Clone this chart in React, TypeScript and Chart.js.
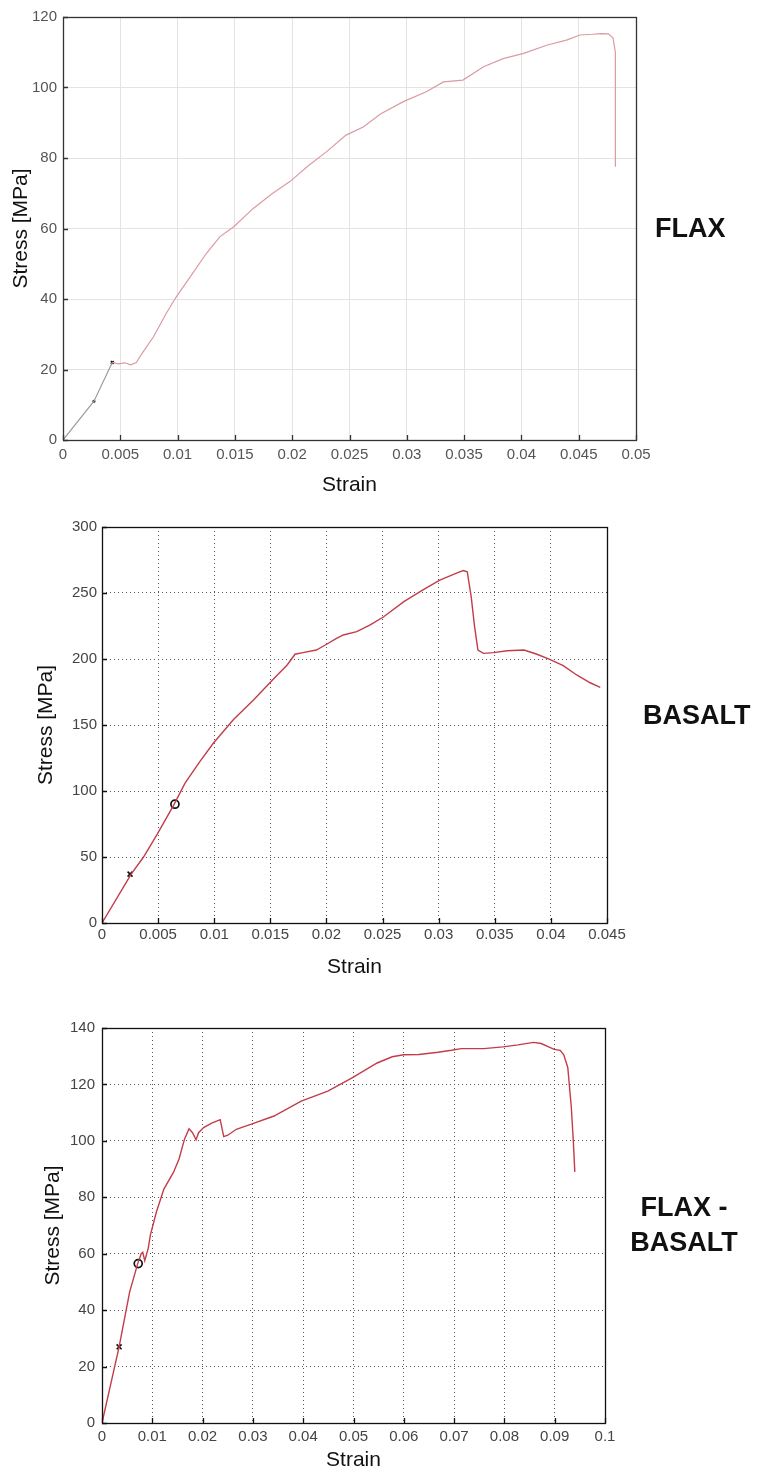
import React, { useEffect, useRef } from "react";
import { Chart, registerables } from "chart.js";

Chart.register(...registerables);

// ---------- FLAX ----------
const FLAX_STRAIN = [
  0, 0.0027, 0.0043, 0.0048, 0.0054, 0.0059, 0.0064, 0.0069, 0.0079, 0.009, 0.0099, 0.0111, 0.0125,
  0.0137, 0.0149, 0.0166, 0.0183, 0.0198, 0.0213, 0.023, 0.0247, 0.0262, 0.0277, 0.0297, 0.0317,
  0.0332, 0.0349, 0.0367, 0.0384, 0.0402, 0.0422, 0.044, 0.0451, 0.0462, 0.0469, 0.0476, 0.048,
  0.0482, 0.0482, 0.0482,
];
const FLAX_STRESS = [
  0, 11, 22, 21.6, 21.9, 21.3, 22, 24.6, 29.3, 35.9, 40.7, 46.3, 52.9, 57.7, 60.5, 65.7, 70, 73.3,
  77.5, 81.8, 86.5, 88.8, 92.5, 96, 98.8, 101.6, 102.1, 105.9, 108.2, 109.7, 112, 113.5, 114.9,
  115.1, 115.3, 115.2, 114, 110, 100, 77.5,
];
const FLAX_MARK_X = [0.0043];
const FLAX_MARK_Y = [22];
const FLAX_DOT_X = [0.0027];
const FLAX_DOT_Y = [11];
const FLAX_X_TICKS = [0, 0.005, 0.01, 0.015, 0.02, 0.025, 0.03, 0.035, 0.04, 0.045, 0.05];
const FLAX_Y_TICKS = [0, 20, 40, 60, 80, 100, 120];

// ---------- BASALT ----------
const BASALT_STRAIN = [
  0, 0.0026, 0.0037, 0.0049, 0.0064, 0.0074, 0.0087, 0.0099, 0.0117, 0.0135, 0.0153, 0.0165, 0.0172,
  0.0179, 0.0191, 0.0199, 0.0209, 0.0215, 0.0227, 0.0239, 0.0251, 0.0269, 0.0286, 0.0301, 0.0317,
  0.0322, 0.03255, 0.0329, 0.0332, 0.0335, 0.034, 0.0349, 0.0361, 0.0376, 0.0387, 0.0399, 0.0411,
  0.0423, 0.0435, 0.0444,
];
const BASALT_STRESS = [
  0, 37, 50, 67, 89.5, 106, 122, 136, 154, 169, 185, 195.5, 203.6, 204.8, 206.8, 210.6, 215.6,
  218.2, 220.7, 225.8, 232, 243.5, 252.3, 259.8, 265.5, 267, 266, 247, 224.5, 206.8, 204.3, 204.8,
  206.3, 206.8, 203.8, 199.7, 194.9, 187.9, 182, 178.5,
];
const BASALT_CROSS_X = [0.0025];
const BASALT_CROSS_Y = [37];
const BASALT_CIRCLE_X = [0.0065];
const BASALT_CIRCLE_Y = [90];
const BASALT_X_TICKS = [0, 0.005, 0.01, 0.015, 0.02, 0.025, 0.03, 0.035, 0.04, 0.045];
const BASALT_Y_TICKS = [0, 50, 100, 150, 200, 250, 300];

// ---------- FLAX - BASALT ----------
const HYBRID_STRAIN = [
  0, 0.0034, 0.0055, 0.0071, 0.0078, 0.0081, 0.0085, 0.0092, 0.0096, 0.0108, 0.0123, 0.0142, 0.0153,
  0.0164, 0.0173, 0.018, 0.0187, 0.0192, 0.0202, 0.0217, 0.0235, 0.0242, 0.025, 0.0267, 0.0297,
  0.0342, 0.0396, 0.0449, 0.0498, 0.0547, 0.0577, 0.06, 0.063, 0.0668, 0.0695, 0.0714, 0.0759,
  0.0797, 0.0827, 0.0858, 0.0873, 0.0888, 0.0899, 0.0911, 0.0918, 0.0926, 0.0933, 0.0937, 0.094,
];
const HYBRID_STRESS = [
  0, 27, 46.5, 56.5, 60, 60.5, 57.5, 62, 66.5, 74.7, 82.9, 88.8, 93.5, 100.6, 104.3, 102.9, 100.4,
  102.9, 104.7, 106.2, 107.5, 101.5, 102, 104.1, 105.9, 108.8, 114.1, 117.6, 122.4, 127.6, 129.8,
  130.5, 130.6, 131.4, 132.1, 132.7, 132.7, 133.3, 134, 134.9, 134.5, 133.3, 132.4, 132.1, 130.5,
  126, 112, 100, 89,
];
const HYBRID_CROSS_X = [0.0034];
const HYBRID_CROSS_Y = [27];
const HYBRID_CIRCLE_X = [0.0072];
const HYBRID_CIRCLE_Y = [56.5];
const HYBRID_X_TICKS = [0, 0.01, 0.02, 0.03, 0.04, 0.05, 0.06, 0.07, 0.08, 0.09, 0.1];
const HYBRID_Y_TICKS = [0, 20, 40, 60, 80, 100, 120, 140];

const X_TITLE = "Strain";
const Y_TITLE = "Stress [MPa]";

const FONT = "'Liberation Sans', Arial, Helvetica, sans-serif";

const pts = (xs: number[], ys: number[]) => xs.map((x, i) => ({ x, y: ys[i] }));
const fmt = (v: number) => String(Number(Number(v).toFixed(4)));

const framePlugin = {
  id: "frame",
  afterDatasetsDraw(chart: any, _args: any, opts: any) {
    const { ctx, chartArea: a, scales } = chart;
    ctx.save();
    ctx.strokeStyle = opts.color;
    ctx.lineWidth = opts.width;
    ctx.beginPath();
    scales.x.ticks.forEach((t: any) => {
      const px = Math.round(scales.x.getPixelForValue(t.value)) + 0.5;
      ctx.moveTo(px, a.bottom);
      ctx.lineTo(px, a.bottom - opts.tick);
    });
    scales.y.ticks.forEach((t: any) => {
      const py = Math.round(scales.y.getPixelForValue(t.value)) + 0.5;
      ctx.moveTo(a.left, py);
      ctx.lineTo(a.left + opts.tick, py);
    });
    ctx.stroke();
    ctx.strokeRect(a.left + 0.5, a.top + 0.5, a.right - a.left, a.bottom - a.top);
    ctx.restore();
  },
};

type Spec = {
  top: number;
  height: number;
  padTop: number;
  padRight: number;
  yWidth: number;
  xHeight: number;
  xTicks: number[];
  yTicks: number[];
  xMax: number;
  yMax: number;
  datasets: any[];
  dotted: boolean;
  yTitlePad: number;
  xTitlePad: number;
  xTickPad: number;
  yTickPad: number;
  tickColor: string;
  frameColor: string;
};

function buildConfig(s: Spec): any {
  const gridColor = s.dotted ? "#555" : "#e3e3e3";
  const dash = s.dotted ? [1, 3] : [];
  return {
    type: "scatter",
    data: { datasets: s.datasets },
    options: {
      animation: false,
      responsive: false,
      devicePixelRatio: 1,
      layout: { padding: { top: s.padTop, right: s.padRight, left: 0, bottom: 0 } },
      plugins: {
        legend: { display: false },
        tooltip: { enabled: false },
        frame: { color: s.frameColor, width: 1.3, tick: 5 },
      },
      scales: {
        x: {
          type: "linear",
          min: 0,
          max: s.xMax,
          afterFit: (axis: any) => {
            axis.height = s.xHeight;
          },
          afterBuildTicks: (axis: any) => {
            axis.ticks = s.xTicks.map((v) => ({ value: v }));
          },
          grid: { color: gridColor, lineWidth: 1, drawTicks: false },
          border: { display: false, dash },
          ticks: {
            autoSkip: false,
            maxRotation: 0,
            padding: s.xTickPad,
            color: s.tickColor,
            font: { family: FONT, size: 15, lineHeight: 1.2 },
            callback: (v: any) => fmt(v),
          },
          title: {
            display: true,
            text: X_TITLE,
            color: "#111",
            font: { family: FONT, size: 21, lineHeight: 1.2 },
            padding: { top: 0, bottom: s.xTitlePad },
          },
        },
        y: {
          type: "linear",
          min: 0,
          max: s.yMax,
          afterFit: (axis: any) => {
            axis.width = s.yWidth;
          },
          afterBuildTicks: (axis: any) => {
            axis.ticks = s.yTicks.map((v) => ({ value: v }));
          },
          grid: { color: gridColor, lineWidth: 1, drawTicks: false },
          border: { display: false, dash },
          ticks: {
            autoSkip: false,
            padding: s.yTickPad,
            color: s.tickColor,
            font: { family: FONT, size: 15, lineHeight: 1.2 },
            callback: (v: any) => fmt(v),
          },
          title: {
            display: true,
            text: Y_TITLE,
            color: "#111",
            font: { family: FONT, size: 21, lineHeight: 1.2 },
            padding: { top: s.yTitlePad, bottom: 0 },
          },
        },
      },
    },
    plugins: [framePlugin],
  };
}

function Panel({ spec }: { spec: Spec }) {
  const ref = useRef<HTMLCanvasElement>(null);
  useEffect(() => {
    const chart = new Chart(ref.current as HTMLCanvasElement, buildConfig(spec));
    return () => chart.destroy();
  }, []);
  return (
    <canvas
      ref={ref}
      width={759}
      height={spec.height}
      style={{ position: "absolute", left: 0, top: spec.top, width: 759, height: spec.height, display: "block" }}
    />
  );
}

const lineDs = (data: any[], color: any, width: number, extra: any = {}) => ({
  data,
  showLine: true,
  borderColor: color,
  borderWidth: width,
  pointRadius: 0,
  fill: false,
  tension: 0,
  ...extra,
});

const markDs = (data: any[], style: string, radius: number, width: number) => ({
  data,
  showLine: false,
  pointStyle: style,
  pointRadius: radius,
  pointBorderColor: "#111",
  pointBackgroundColor: "rgba(0,0,0,0)",
  pointBorderWidth: width,
  borderColor: "#111",
  backgroundColor: "rgba(0,0,0,0)",
});

const RED = "#c23d4a";

const SPECS: Spec[] = [
  {
    top: 0,
    height: 500,
    padTop: 17,
    padRight: 759 - 636,
    yWidth: 63,
    xHeight: 60,
    xTicks: FLAX_X_TICKS,
    yTicks: FLAX_Y_TICKS,
    xMax: 0.05,
    yMax: 120,
    dotted: false,
    yTitlePad: 9,
    xTitlePad: 2,
    xTickPad: 6,
    yTickPad: 6,
    tickColor: "#555",
    frameColor: "#333",
    datasets: [
      lineDs(pts(FLAX_STRAIN, FLAX_STRESS), "#dc9aa2", 1.2, {
        segment: { borderColor: (c: any) => (c.p0DataIndex < 2 ? "#9c9c9c" : "#dc9aa2") },
      }),
      markDs(pts(FLAX_MARK_X, FLAX_MARK_Y), "crossRot", 2, 1.5),
      markDs(pts(FLAX_DOT_X, FLAX_DOT_Y), "circle", 1, 1.2),
    ],
  },
  {
    top: 500,
    height: 480,
    padTop: 27,
    padRight: 759 - 607,
    yWidth: 102,
    xHeight: 57,
    xTicks: BASALT_X_TICKS,
    yTicks: BASALT_Y_TICKS,
    xMax: 0.045,
    yMax: 300,
    dotted: true,
    yTitlePad: 34,
    xTitlePad: 0,
    xTickPad: 3,
    yTickPad: 5,
    tickColor: "#444",
    frameColor: "#111",
    datasets: [
      lineDs(pts(BASALT_STRAIN, BASALT_STRESS), RED, 1.4),
      markDs(pts(BASALT_CROSS_X, BASALT_CROSS_Y), "crossRot", 3.5, 1.6),
      markDs(pts(BASALT_CIRCLE_X, BASALT_CIRCLE_Y), "circle", 4, 1.7),
    ],
  },
  {
    top: 980,
    height: 495,
    padTop: 48,
    padRight: 759 - 605,
    yWidth: 102,
    xHeight: 52,
    xTicks: HYBRID_X_TICKS,
    yTicks: HYBRID_Y_TICKS,
    xMax: 0.1,
    yMax: 140,
    dotted: true,
    yTitlePad: 41,
    xTitlePad: 2,
    xTickPad: 5,
    yTickPad: 7,
    tickColor: "#444",
    frameColor: "#111",
    datasets: [
      lineDs(pts(HYBRID_STRAIN, HYBRID_STRESS), RED, 1.4),
      markDs(pts(HYBRID_CROSS_X, HYBRID_CROSS_Y), "crossRot", 3.5, 1.6),
      markDs(pts(HYBRID_CIRCLE_X, HYBRID_CIRCLE_Y), "circle", 4, 1.7),
    ],
  },
];

const labelStyle: React.CSSProperties = {
  position: "absolute",
  fontFamily: FONT,
  fontWeight: "bold",
  fontSize: 27,
  color: "#111",
  whiteSpace: "nowrap",
};

export default function App() {
  return (
    <div style={{ position: "absolute", left: 0, top: 0, width: 759, height: 1475, background: "#fff", overflow: "hidden" }}>
      {SPECS.map((s, i) => (
        <Panel key={i} spec={s} />
      ))}
      <div style={{ ...labelStyle, left: 655, top: 215, lineHeight: "27px" }}>FLAX</div>
      <div style={{ ...labelStyle, left: 643, top: 702, lineHeight: "27px" }}>BASALT</div>
      <div style={{ ...labelStyle, left: 600, top: 1190, width: 168, textAlign: "center", lineHeight: "35px" }}>
        FLAX -<br />BASALT
      </div>
    </div>
  );
}
